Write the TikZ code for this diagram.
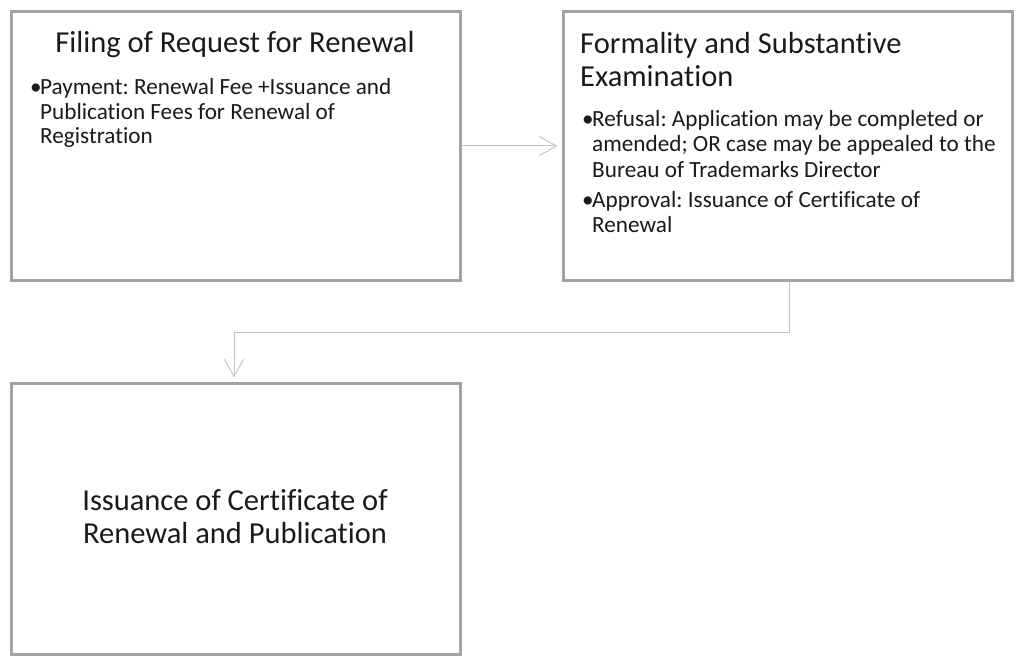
\documentclass[tikz,border=0pt]{standalone}
\usepackage{fontspec}
\setmainfont{Carlito}[Ligatures={NoCommon}]
\usetikzlibrary{arrows.meta}
\definecolor{boxgray}{HTML}{A3A3A3}
\definecolor{linegray}{HTML}{C4C4C4}
\definecolor{inkgray}{HTML}{1A1A1A}
\frenchspacing
\newcommand{\bulletline}[1]{\hangindent=10pt\hangafter=1\noindent\makebox[10pt][l]{\textbullet}#1\par}
\newcommand{\itemblock}[1]{\begin{minipage}[t]{425pt}\raggedright\parskip=5pt\relax#1\end{minipage}}
\tikzset{
  stagebox/.style={draw=boxgray,line width=2.2pt,minimum width=449pt,minimum height=269pt,inner sep=0pt},
  headtext/.style={font=\fontsize{30.5}{33}\selectfont,text=inkgray,inner sep=0pt},
  itemtext/.style={font=\fontsize{23.2}{24.5}\selectfont,text=inkgray,inner sep=0pt},
  flow/.style={draw=linegray,line width=1pt,-{Straight Barb[length=17pt,width=19pt,line width=1pt]}}
}
\begin{document}
\begin{tikzpicture}[x=1pt,y=-1pt]
  \useasboundingbox (0,0) rectangle (1024,668);
  % the three stages
  \node[stagebox] (filing) at (236,146) {};
  \node[stagebox] (exam)   at (788,146) {};
  \node[stagebox,minimum height=271pt] (issue) at (236,519) {};

  \node[headtext,anchor=base] (filinghead) at (235,53) {Filing of Request for Renewal};
  \node[itemtext,anchor=base west] (filingitems) at (30,95)
    {\itemblock{\bulletline{Payment: Renewal Fee +Issuance and\newline Publication Fees for Renewal of\newline Registration}}};

  \node[headtext,anchor=base west,align=left] (examhead) at (580,86.5)
    {Formality and Substantive\\Examination};
  \node[itemtext,font=\fontsize{23.2}{25.3}\selectfont,anchor=base west] (examitems) at (582,126.5)
    {\itemblock{\bulletline{Refusal: Application may be completed or\newline amended; OR case may be appealed to the\newline Bureau of Trademarks Director}
     \bulletline{Approval: Issuance of Certificate of\newline Renewal}}};

  \node[headtext,align=center,anchor=base] (issuehead) at (235,543)
    {Issuance of Certificate of\\Renewal and Publication};

  % connectors
  \coordinate (bend1) at (789,332);
  \coordinate (bend2) at (234,332);
  \draw[flow] (filing.east) -- ([xshift=-5pt]exam.west);
  \draw[flow] (exam.south -| bend1) -- (bend1) -- (bend2) -- ([yshift=5pt]issue.north -| bend2);
\end{tikzpicture}
\end{document}
